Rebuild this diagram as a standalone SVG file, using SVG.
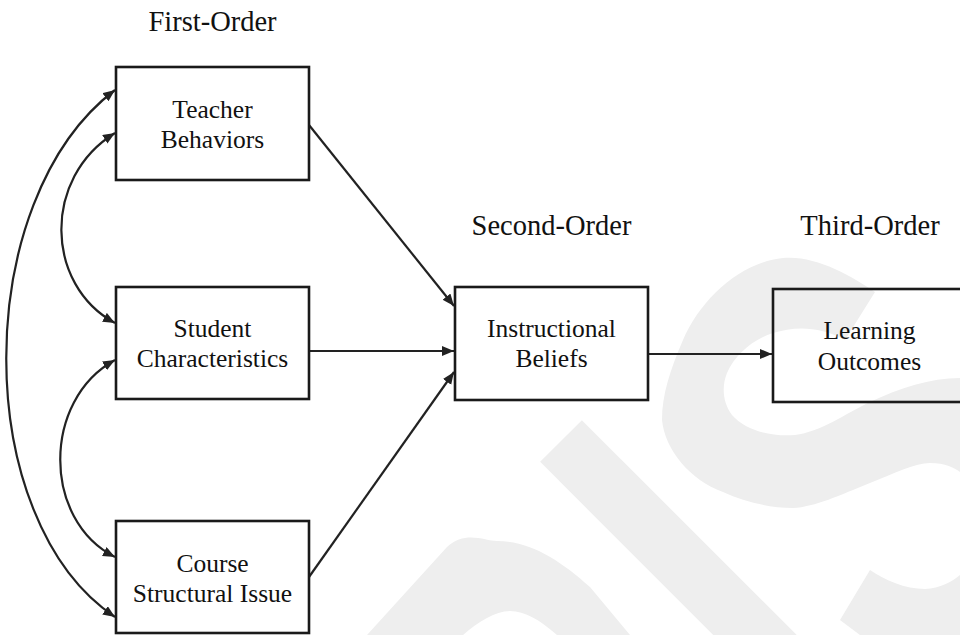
<svg xmlns="http://www.w3.org/2000/svg" width="960" height="635" viewBox="0 0 960 635">
  <style>
    .box { fill: none; stroke: #1a1a1a; stroke-width: 2.6; }
    .lbl { font-family: "Liberation Serif", "Times New Roman", serif; font-size: 25.5px; fill: #111; text-anchor: middle; }
    .hdr { font-family: "Liberation Serif", "Times New Roman", serif; font-size: 28.5px; fill: #111; text-anchor: middle; }
    .edge { fill: none; stroke: #222; stroke-width: 2.2; }
    .wm { fill: #eeeeee; }
  </style>
  <defs>
    <marker id="head" markerUnits="userSpaceOnUse" markerWidth="13" markerHeight="11" refX="12" refY="5" orient="auto-start-reverse">
      <path d="M0,0 L12,5 L0,10 Z" fill="#222"/>
    </marker>
  </defs>

  <rect width="960" height="635" fill="#ffffff"/>

  <!-- faint background mark -->
  <g id="backdrop">
    <line x1="561" y1="441" x2="831" y2="711" stroke="#eeeeee" stroke-width="59"/>
    <path class="wm" d="M367,635 L447,547 C465,530 485,541 497,541 C530,541 560,560 590,587 L630,635 L557,635 C540,620 525,611 510,611 C495,611 478,622 463,635 Z"/>
    <path class="wm" d="M875,292 C850,275 815,255 783,258 C740,262 700,300 683,340 C670,370 662,395 662,420 C665,450 690,480 723,492 C745,502 770,508 793,508 C815,507 840,495 870,483 C895,473 915,463 930,463 C945,463 955,468 960,472 L960,378 C930,378 900,388 870,402 C845,414 820,432 795,435 C770,437 745,430 732,415 C722,402 722,385 727,373 C735,355 752,340 773,333 C795,326 820,326 845,340 Z"/>
    <path class="wm" d="M870,570 C885,580 905,589 925,589 C940,588 952,582 960,575 L960,635 L860,635 L840,620 Z"/>
  </g>

  <!-- column headings -->
  <text class="hdr" x="212.5" y="31">First-Order</text>
  <text class="hdr" x="551.5" y="235">Second-Order</text>
  <text class="hdr" x="870" y="235">Third-Order</text>

  <g id="connectors">
    <path class="edge" d="M309,125 L454,306" marker-end="url(#head)"/>
    <path class="edge" d="M309,351 L454,351" marker-end="url(#head)"/>
    <path class="edge" d="M309,577 L454,372" marker-end="url(#head)"/>
    <path class="edge" d="M648,354 L772,354" marker-end="url(#head)"/>
    <path class="edge" d="M115,90 C-30,200 -30,520 115,617" marker-start="url(#head)" marker-end="url(#head)"/>
    <path class="edge" d="M115,133 C42,178 45,285 115,323" marker-start="url(#head)" marker-end="url(#head)"/>
    <path class="edge" d="M115,360 C42,400 42,520 115,557" marker-start="url(#head)" marker-end="url(#head)"/>
  </g>

  <g id="teacher-behaviors">
    <rect class="box" x="116" y="67" width="193" height="113"/>
    <text class="lbl" x="212.5" y="118">Teacher</text>
    <text class="lbl" x="212.5" y="148">Behaviors</text>
  </g>
  <g id="student-characteristics">
    <rect class="box" x="116" y="287" width="193" height="112"/>
    <text class="lbl" x="212.5" y="337">Student</text>
    <text class="lbl" x="212.5" y="367">Characteristics</text>
  </g>
  <g id="course-structural-issue">
    <rect class="box" x="116" y="521" width="193" height="112"/>
    <text class="lbl" x="212.5" y="572">Course</text>
    <text class="lbl" x="212.5" y="602">Structural Issue</text>
  </g>
  <g id="instructional-beliefs">
    <rect class="box" x="455" y="287" width="193" height="113"/>
    <text class="lbl" x="551.5" y="337">Instructional</text>
    <text class="lbl" x="551.5" y="367">Beliefs</text>
  </g>
  <g id="learning-outcomes">
    <rect class="box" x="773" y="289" width="193" height="113"/>
    <text class="lbl" x="869.5" y="339">Learning</text>
    <text class="lbl" x="869.5" y="370">Outcomes</text>
  </g>
</svg>
